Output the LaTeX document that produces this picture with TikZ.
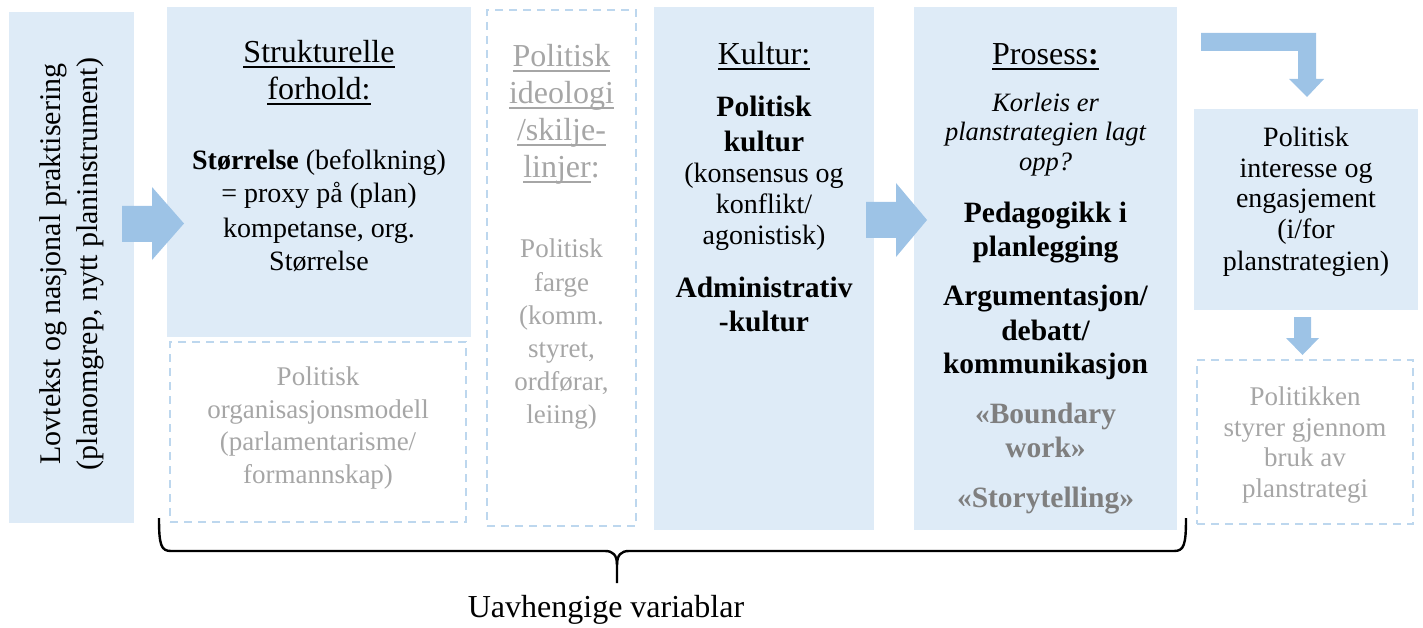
\documentclass[tikz,border=0pt]{standalone}
\usepackage{fontspec}
\setmainfont{Liberation Serif}
\definecolor{boxfill}{HTML}{DEEBF7}
\definecolor{arrowfill}{HTML}{9DC3E6}
\definecolor{dashline}{HTML}{BDD7EE}
\definecolor{softgray}{HTML}{A6A6A6}
\definecolor{midgray}{HTML}{7F7F7F}
% underline drawn as a rule of fixed depth and thickness
\newcommand\ulbar[1]{\setbox0\hbox{#1}\rlap{\rule[-5pt]{\wd0}{1.8pt}}\box0}
\newcommand\hdsize{\fontsize{32}{37}\selectfont}
\newcommand\txsize{\fontsize{28}{33}\selectfont}
\newcommand\gysize{\fontsize{27}{32}\selectfont}
\newcommand\bfsize{\fontsize{29.5}{35}\selectfont\bfseries}
\newcommand\itsize{\fontsize{26.5}{30}\selectfont\itshape}
\tikzset{
  bluebox/.style={fill=boxfill, draw=none, inner sep=0pt, outer sep=0pt},
  dashbox/.style={draw=dashline, dash pattern=on 8pt off 6pt, line width=2pt, inner sep=0pt, outer sep=0pt},
  ln/.style={anchor=base, inner sep=0pt, outer sep=0pt},
  blockarrow/.style={fill=arrowfill, draw=none},
  brace/.style={draw=black, line width=2.4pt, line join=round},
}
\begin{document}
\begin{tikzpicture}[x=1pt,y=-1pt]
\useasboundingbox (0,0) rectangle (1423,628);

% ---- boxes ----
\node[bluebox, minimum width=125pt, minimum height=511pt] (lov) at (71.5,267.5) {};
\node[bluebox, minimum width=304pt, minimum height=330pt] (struk) at (319,172) {};
\node[dashbox, minimum width=296pt, minimum height=180pt] (org) at (318,432) {};
\node[dashbox, minimum width=149pt, minimum height=516pt] (ideo) at (561.5,268) {};
\node[bluebox, minimum width=220pt, minimum height=523pt] (kult) at (764,268.5) {};
\node[bluebox, minimum width=263pt, minimum height=523pt] (pros) at (1045.5,268.5) {};
\node[bluebox, minimum width=224pt, minimum height=201pt] (inter) at (1306,209.5) {};
\node[dashbox, minimum width=216pt, minimum height=164pt] (styr) at (1305,442) {};

% ---- block arrows ----
\fill[blockarrow] (122,206) -- (152,206) -- (152,187) -- (184,223.5) -- (152,260) -- (152,242) -- (122,242) -- cycle;
\fill[blockarrow] (866,202) -- (896,202) -- (896,183) -- (927,220) -- (896,257) -- (896,238) -- (866,238) -- cycle;
\fill[blockarrow] (1201,33) -- (1316,33) -- (1316,79) -- (1324,79) -- (1307,97) -- (1289,79) -- (1298,79) -- (1298,51) -- (1201,51) -- cycle;
\fill[blockarrow] (1294,317) -- (1311,317) -- (1311,338) -- (1319,338) -- (1302.5,355) -- (1286,338) -- (1294,338) -- cycle;

% ---- left box, rotated text ----
\node[ln, rotate=90, font=\fontsize{30}{37}\selectfont] (lov1) at (60,264) {Lovtekst og nasjonal praktisering};
\node[ln, rotate=90, font=\fontsize{30}{37}\selectfont] (lov2) at (97,264) {(planomgrep, nytt planinstrument)};

% ---- strukturelle forhold ----
\node[ln, font=\hdsize] (st1) at (319,63) {\ulbar{Strukturelle}};
\node[ln, font=\hdsize] (st2) at (319,100) {\ulbar{forhold:}};
\node[ln, font=\txsize] (st3) at (319,170) {\textbf{Størrelse} (befolkning)};
\node[ln, font=\txsize] (st4) at (319,203) {= proxy på (plan)};
\node[ln, font=\txsize] (st5) at (319,237) {kompetanse, org.};
\node[ln, font=\txsize] (st6) at (319,270) {Størrelse};

\node[ln, font=\gysize, text=softgray] (or1) at (318,385) {Politisk};
\node[ln, font=\gysize, text=softgray] (or2) at (318,418) {organisasjonsmodell};
\node[ln, font=\gysize, text=softgray] (or3) at (318,450) {(parlamentarisme/};
\node[ln, font=\gysize, text=softgray] (or4) at (318,483) {formannskap)};

% ---- politisk ideologi ----
\node[ln, font=\hdsize, text=softgray] (id1) at (561.5,67) {\ulbar{Politisk}};
\node[ln, font=\hdsize, text=softgray] (id2) at (561.5,104) {\ulbar{ideologi}};
\node[ln, font=\hdsize, text=softgray] (id3) at (561.5,141) {\ulbar{/skilje-}};
\node[ln, font=\hdsize, text=softgray] (id4) at (561.5,178) {\ulbar{linjer}:};
\node[ln, font=\gysize, text=softgray] (id5) at (561.5,258) {Politisk};
\node[ln, font=\gysize, text=softgray] (id6) at (561.5,291) {farge};
\node[ln, font=\gysize, text=softgray] (id7) at (561.5,324) {(komm.};
\node[ln, font=\gysize, text=softgray] (id8) at (561.5,357) {styret,};
\node[ln, font=\gysize, text=softgray] (id9) at (561.5,390) {ordførar,};
\node[ln, font=\gysize, text=softgray] (id10) at (561.5,423) {leiing)};

% ---- kultur ----
\node[ln, font=\hdsize] (ku1) at (764,65) {\ulbar{Kultur:}};
\node[ln, font=\bfsize] (ku2) at (764,117) {Politisk};
\node[ln, font=\bfsize] (ku3) at (764,152) {kultur};
\node[ln, font=\txsize] (ku4) at (764,183) {(konsensus og};
\node[ln, font=\txsize] (ku5) at (764,214) {konflikt/};
\node[ln, font=\txsize] (ku6) at (764,245) {agonistisk)};
\node[ln, font=\bfsize] (ku7) at (764,297) {Administrativ};
\node[ln, font=\bfsize] (ku8) at (764,331) {-kultur};

% ---- prosess ----
\node[ln, font=\hdsize] (pr1) at (1045.5,65) {\ulbar{Prosess\textbf{:}}};
\node[ln, font=\itsize] (pr2) at (1045.5,112) {Korleis er};
\node[ln, font=\itsize] (pr3) at (1045.5,141) {planstrategien lagt};
\node[ln, font=\itsize] (pr4) at (1045.5,171) {opp?};
\node[ln, font=\bfsize] (pr5) at (1045.5,223) {Pedagogikk i};
\node[ln, font=\bfsize] (pr6) at (1045.5,256) {planlegging};
\node[ln, font=\bfsize] (pr7) at (1045.5,305) {Argumentasjon/};
\node[ln, font=\bfsize] (pr8) at (1045.5,340) {debatt/};
\node[ln, font=\bfsize] (pr9) at (1045.5,373) {kommunikasjon};
\node[ln, font=\bfsize, text=midgray] (pr10) at (1045.5,423) {«Boundary};
\node[ln, font=\bfsize, text=midgray] (pr11) at (1045.5,457) {work»};
\node[ln, font=\bfsize, text=midgray] (pr12) at (1045.5,507) {«Storytelling»};

% ---- politisk interesse ----
\node[ln, font=\txsize] (in1) at (1306,147) {Politisk};
\node[ln, font=\txsize] (in2) at (1306,178) {interesse og};
\node[ln, font=\txsize] (in3) at (1306,208) {engasjement};
\node[ln, font=\txsize] (in4) at (1306,239) {(i/for};
\node[ln, font=\txsize] (in5) at (1306,270) {planstrategien)};

% ---- politikken styrer ----
\node[ln, font=\gysize, text=softgray] (sy1) at (1305,405) {Politikken};
\node[ln, font=\gysize, text=softgray] (sy2) at (1305,436) {styrer gjennom};
\node[ln, font=\gysize, text=softgray] (sy3) at (1305,466) {bruk av};
\node[ln, font=\gysize, text=softgray] (sy4) at (1305,497) {planstrategi};

% ---- brace and label ----
\coordinate (bl) at (159,518);
\coordinate (br) at (1186,518);
\coordinate (bm) at (617,583);
\draw[brace] (bl) .. controls (159,545) and (161,551) .. (171,551) -- (605,551)
  .. controls (613,551) and (617,555) .. (617,565) -- (bm);
\draw[brace] (617,565) .. controls (617,555) and (621,551) .. (629,551) -- (1174,551)
  .. controls (1184,551) and (1186,545) .. (br);
\node[ln, font=\hdsize] (uav) at (606,617) {Uavhengige variablar};
\end{tikzpicture}
\end{document}
